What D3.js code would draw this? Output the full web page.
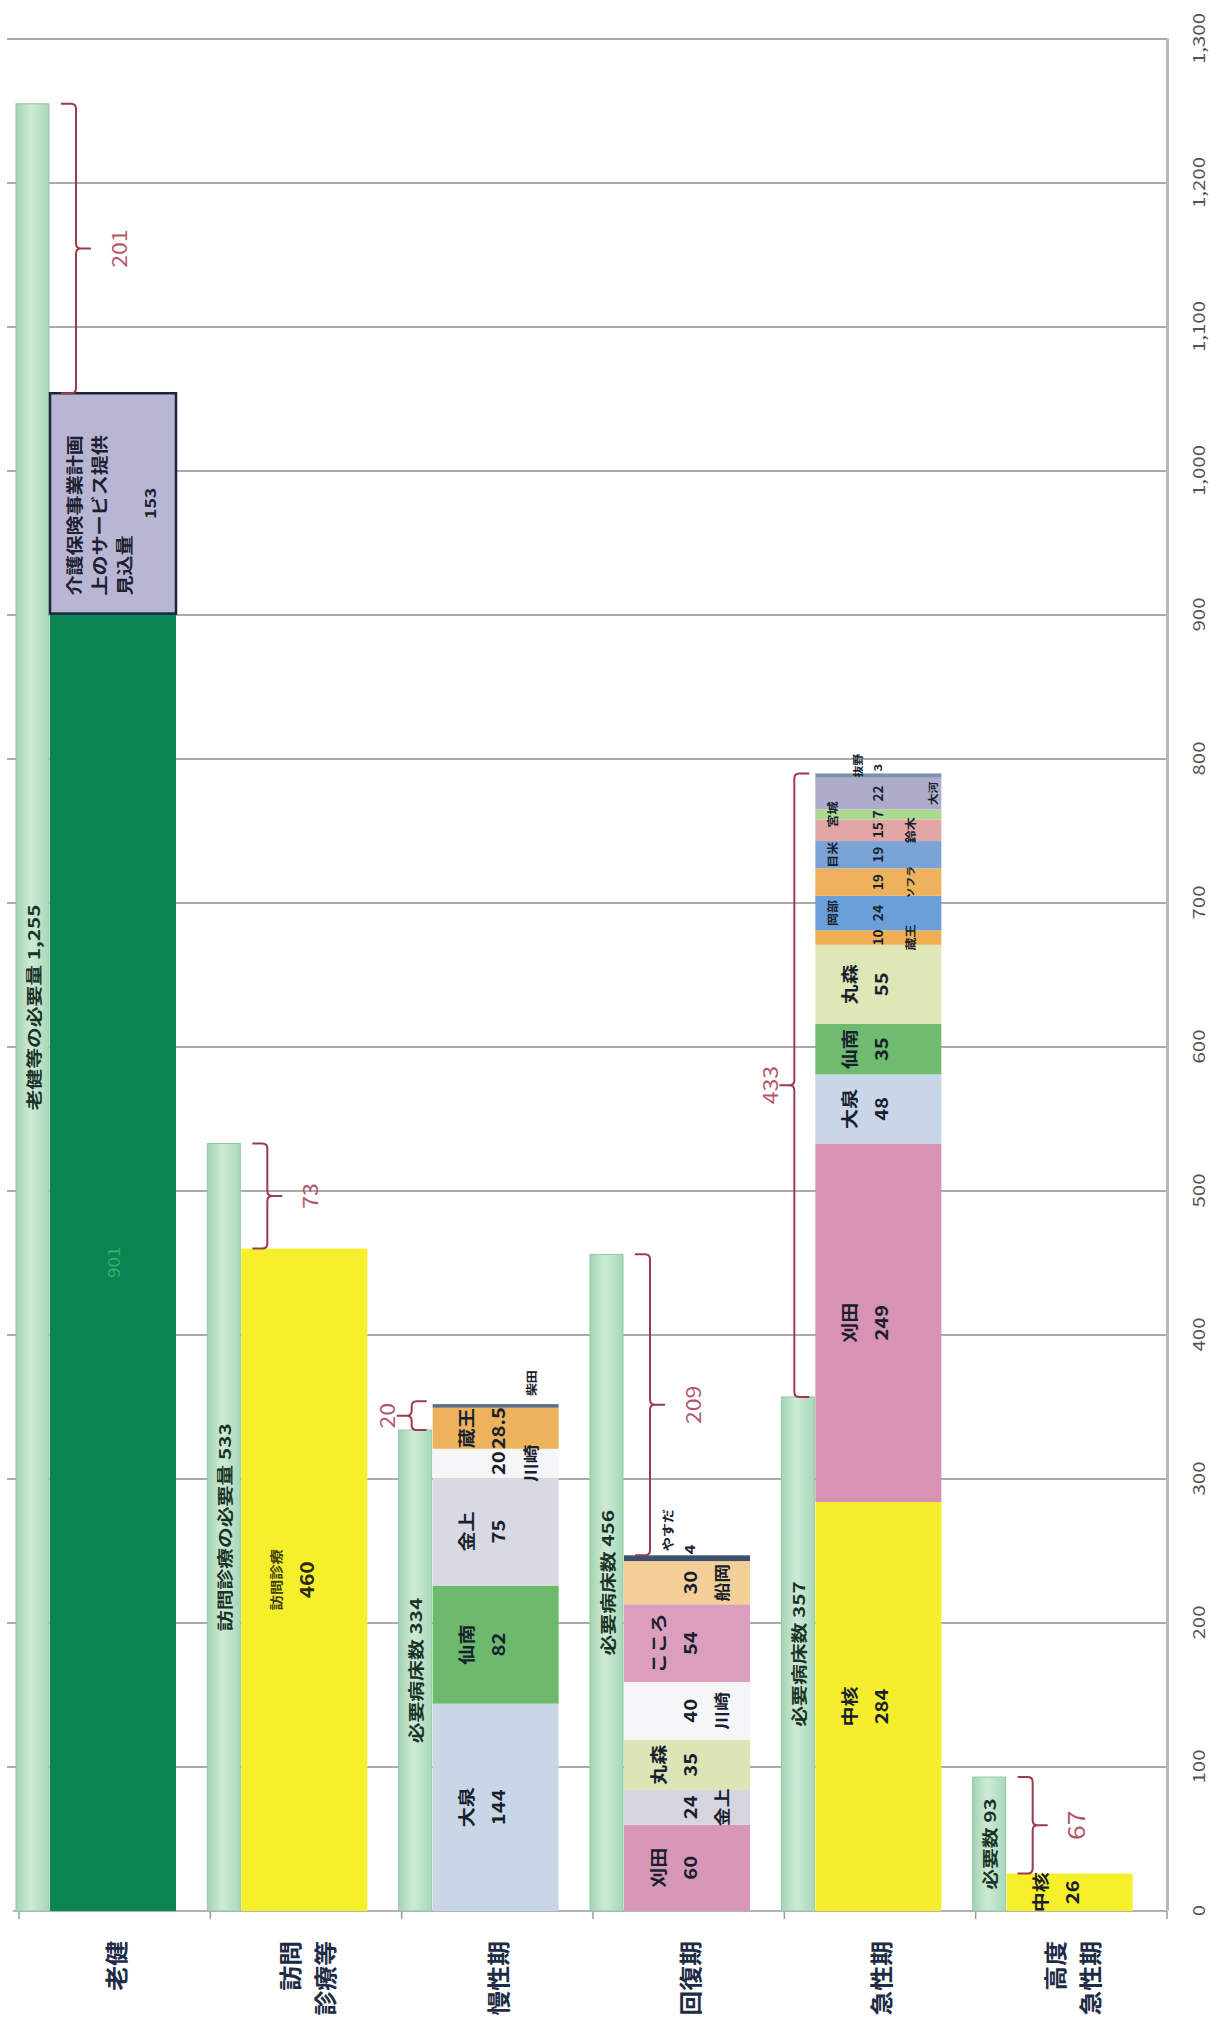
<!DOCTYPE html>
<html>
<head>
<meta charset="utf-8">
<script src="https://cdn.jsdelivr.net/npm/d3@7"></script>
<style>
  body { margin: 0; background: #fff; }
  svg { display: block; }
  text { font-family: "Noto Sans CJK JP", "Noto Sans", sans-serif; }
</style>
</head>
<body>
<div id="chart"></div>
<script>
// ---- data ----
const categories = ["老健", "訪問診療等", "慢性期", "回復期", "急性期", "高度急性期"];
const categoryLines = [["老健"], ["訪問", "診療等"], ["慢性期"], ["回復期"], ["急性期"], ["高度", "急性期"]];

// light green "required" bars
const requiredValues = [1255, 533, 334, 456, 357, 93];
const requiredLabels = ["老健等の必要量", "訪問診療の必要量", "必要病床数", "必要病床数", "必要病床数", "必要数"];

// gap shown with the brackets
const gapValues = [201, 73, 20, 209, 433, 67];

// stacked bars (bottom to top)
const rokenNames = ["", "介護保険事業計画|上のサービス提供|見込量"];
const rokenValues = [901, 153];
const houmonNames = ["訪問診療"];
const houmonValues = [460];
const manseiNames = ["大泉", "仙南", "金上", "川崎", "蔵王", "柴田"];
const manseiValues = [144, 82, 75, 20, 28.5, 2.5];
const kaifukuNames = ["刈田", "金上", "丸森", "川崎", "こころ", "船岡", "やすだ"];
const kaifukuValues = [60, 24, 35, 40, 54, 30, 4];
const kyuseiNames = ["中核", "刈田", "大泉", "仙南", "丸森", "蔵王", "岡部", "ソフラ", "目米", "鈴木", "宮城", "大河", "抜野"];
const kyuseiValues = [284, 249, 48, 35, 55, 10, 24, 19, 19, 15, 7, 22, 3];
const koudoNames = ["中核"];
const koudoValues = [26];

const tickValues = d3.range(0, 1301, 100);

const stackNames = [rokenNames, houmonNames, manseiNames, kaifukuNames, kyuseiNames, koudoNames];
const stackValues = [rokenValues, houmonValues, manseiValues, kaifukuValues, kyuseiValues, koudoValues];

// ---- styles ----
const segColors = {
  "老健": ["#0a8450", "#b9b6d3"],
  "訪問診療等": ["#f6f02c"],
  "慢性期": ["#c9d6e6", "#6dba6d", "#d9d9e3", "#f6f6f8", "#edb35c", "#5b6b86"],
  "回復期": ["#d997b7", "#d7d6e0", "#dde4b6", "#f6f6f8", "#dc9ebd", "#f5cf98", "#3e5070"],
  "急性期": ["#f6ee2c", "#d893b3", "#c8d6e8", "#6fbb6f", "#dfe6b8", "#efae52", "#6b9fd9",
             "#efb25c", "#7aa4d6", "#e2a6a4", "#abd990", "#aeaccb", "#7f8fb0"],
  "高度急性期": ["#f6f02c"]
};
// how each segment's labels are placed
const labelRules = {
  "慢性期": ["m", "m", "m", "r", "m", "top"],
  "回復期": ["m", "r", "m", "r", "m", "r", "topNum"],
  "急性期": ["m", "m", "m", "m", "m", "sr", "sl", "sr2", "sl", "sr", "sl", "sfr", "top2"],
  "高度急性期": ["m"]
};

const W = 1216, H = 2023;
const margin = { left: 19, bottom: 1911 };
const plotLen = 1872;   // value direction (page vertical)
const plotSpan = 1148;  // category direction (page horizontal)

const svg = d3.select("#chart").append("svg")
  .attr("width", W)
  .attr("height", H);

// gradient for the light green bars
const grad = svg.append("defs").append("linearGradient")
  .attr("id", "needGrad")
  .attr("x1", 0).attr("y1", 0).attr("x2", 0).attr("y2", 1);
grad.append("stop").attr("offset", "0%").attr("stop-color", "#a3d4b3");
grad.append("stop").attr("offset", "45%").attr("stop-color", "#cdebd7");
grad.append("stop").attr("offset", "100%").attr("stop-color", "#a9d8b8");

// the chart is a horizontal bar chart turned a quarter turn
const g = svg.append("g")
  .attr("transform", `translate(${margin.left},${margin.bottom}) rotate(-90)`);

const x = d3.scaleLinear().domain([0, 1300]).range([0, plotLen]);
const band = d3.scaleBand().domain(categories).range([0, plotSpan]);
const bw = band.bandwidth();

function addText(parent, px, py, txt, opts) {
  return parent.append("text")
    .attr("transform", `translate(${px},${py}) scale(${opts.stretch || 1.18},1)`)
    .attr("text-anchor", opts.anchor || "middle")
    .attr("dominant-baseline", "central")
    .attr("font-size", opts.size)
    .attr("font-weight", opts.weight || 700)
    .attr("fill", opts.fill || "#17212d")
    .text(txt);
}

// gridlines
g.append("g").selectAll("line")
  .data(tickValues.slice(1))
  .join("line")
  .attr("x1", d => x(d)).attr("x2", d => x(d))
  .attr("y1", -12).attr("y2", plotSpan)
  .attr("stroke", "#8f8f8f")
  .attr("stroke-width", 1.3);

// value axis (page right side)
const axisG = g.append("g")
  .attr("transform", `translate(0,${plotSpan})`)
  .call(d3.axisBottom(x).tickValues(tickValues).tickFormat(d3.format(",")).tickSize(0).tickPadding(32));
axisG.select(".domain").attr("stroke", "#b8b8b8").attr("stroke-width", 3);
axisG.selectAll("text")
  .attr("y", 32)
  .attr("dy", "0.35em")
  .attr("transform", "scale(1.2,1)")
  .attr("font-size", 17)
  .attr("fill", "#555")
  .attr("font-family", "\"Liberation Sans\", sans-serif");

// category axis (page bottom)
g.append("line")
  .attr("x1", 0).attr("x2", 0)
  .attr("y1", -6).attr("y2", plotSpan)
  .attr("stroke", "#9a9a9a").attr("stroke-width", 1.5);
g.append("g").selectAll("line")
  .data(d3.range(0, categories.length + 1))
  .join("line")
  .attr("x1", 0).attr("x2", -8)
  .attr("y1", d => d * bw).attr("y2", d => d * bw)
  .attr("stroke", "#9a9a9a").attr("stroke-width", 1.5);

categories.forEach((c, i) => {
  const lines = categoryLines[i];
  const yc = band(c) + bw / 2;
  lines.forEach((t, k) => {
    const off = (k - (lines.length - 1) / 2) * 35;
    addText(g, -30, yc + off, t, { size: 23, anchor: "end", fill: "#1e2b45", stretch: 1.08 });
  });
});

// required (light green) bars
categories.forEach((c, i) => {
  const v = requiredValues[i];
  g.append("rect")
    .attr("x", 0).attr("y", band(c) - 3)
    .attr("width", x(v)).attr("height", 33)
    .attr("fill", "url(#needGrad)")
    .attr("stroke", "#93c8a4").attr("stroke-width", 1);
  addText(g, x(v) / 2, band(c) + 13.5, `${requiredLabels[i]} ${d3.format(",")(v)}`,
    { size: 16, stretch: 1.3, fill: "#1b3327" });
});

// stacked bars
categories.forEach((c, i) => {
  let acc = 0;
  const segs = stackValues[i].map((v, j) => {
    const s = { name: stackNames[i][j], v, start: acc, end: acc + v, j };
    acc += v;
    return s;
  });
  const y0 = band(c) + 31;
  const grp = g.append("g");
  grp.selectAll("rect")
    .data(segs)
    .join("rect")
    .attr("x", d => x(d.start))
    .attr("width", d => x(d.end) - x(d.start))
    .attr("y", y0)
    .attr("height", 126)
    .attr("fill", d => segColors[c][d.j])
    .attr("stroke", d => (c === "老健" && d.j === 1) ? "#1b2540" : "none")
    .attr("stroke-width", 2.5);

  const total = acc;

  // labels
  segs.forEach(s => {
    const mid = x((s.start + s.end) / 2);
    const num = String(s.v);
    if (c === "老健") {
      if (s.j === 0) {
        addText(grp, mid, y0 + 63, num, { size: 16, weight: 400, fill: "#3fae70" });
      } else {
        s.name.split("|").forEach((t, k) => {
          addText(grp, x(s.start) + 18, y0 + 23 + k * 25, t, { size: 17, anchor: "start", fill: "#1a2130" });
        });
        addText(grp, mid, y0 + 100, num, { size: 15, fill: "#1a2130" });
      }
      return;
    }
    if (c === "訪問診療等") {
      addText(grp, mid, y0 + 34, s.name, { size: 13, fill: "#3d3d12" });
      addText(grp, mid, y0 + 65, num, { size: 19, weight: 600, fill: "#2c2c10", stretch: 1.1 });
      return;
    }
    const rule = labelRules[c][s.j];
    const nameOpt = { size: 17 };
    const numOpt = { size: 18, weight: 600, stretch: 1.12 };
    const smallName = { size: 11 };
    const smallNum = { size: 13, weight: 600, stretch: 1.05 };
    switch (rule) {
      case "m":
        addText(grp, mid, y0 + 33, s.name, nameOpt);
        addText(grp, mid, y0 + 65, num, numOpt);
        break;
      case "r":
        addText(grp, mid, y0 + 65, num, numOpt);
        addText(grp, mid, y0 + 97, s.name, { size: 16 });
        break;
      case "top":
        addText(grp, x(total) + 8, y0 + 98, s.name, { size: 11, anchor: "start" });
        break;
      case "topNum":
        addText(grp, x(total) + 4, y0 + 44, s.name, { size: 12, anchor: "start" });
        addText(grp, x(total) + 1, y0 + 65, num, { size: 14, weight: 600, anchor: "start" });
        break;
      case "sr":
        addText(grp, mid, y0 + 62, num, smallNum);
        addText(grp, mid, y0 + 95, s.name, smallName);
        break;
      case "sr2":
        addText(grp, mid, y0 + 62, num, smallNum);
        addText(grp, mid, y0 + 95, s.name, { size: 9 });
        break;
      case "sl":
        addText(grp, mid, y0 + 62, num, smallNum);
        addText(grp, mid, y0 + 17, s.name, smallName);
        break;
      case "sfr":
        addText(grp, mid, y0 + 62, num, smallNum);
        addText(grp, mid, y0 + 117, s.name, { size: 10 });
        break;
      case "top2":
        addText(grp, x(total) + 2, y0 + 62, num, { size: 11, weight: 600, anchor: "start" });
        addText(grp, x(total) + 8, y0 + 42, s.name, { size: 10 });
        break;
    }
  });

  // bracket between stack total and required value
  const need = requiredValues[i];
  const low = Math.min(total, need);
  const high = low + gapValues[i];
  const dir = total > need ? -1 : 1;
  const L = dir > 0 ? band(c) + 57 : band(c) + 10;
  const labelY = dir > 0 ? band(c) + 99 : band(c) - 15;
  const xa = x(low), xb = x(high), xm = (xa + xb) / 2, r = 5, h = 15, t = 15;
  const path = `M${xa},${L - dir * h} L${xa},${L - dir * r} Q${xa},${L} ${xa + r},${L} L${xm - r},${L} Q${xm},${L} ${xm},${L + dir * r} L${xm},${L + dir * t}` +
    ` M${xm},${L + dir * r} Q${xm},${L} ${xm + r},${L} L${xb - r},${L} Q${xb},${L} ${xb},${L - dir * r} L${xb},${L - dir * h}`;
  g.append("path")
    .attr("d", path)
    .attr("fill", "none")
    .attr("stroke", "#9b3b4b")
    .attr("stroke-width", 2);
  addText(g, xm, labelY, String(gapValues[i]),
    { size: c === "高度急性期" ? 23 : 20, weight: 400, fill: "#b5566a", stretch: 1.15 });
});
</script>
</body>
</html>
